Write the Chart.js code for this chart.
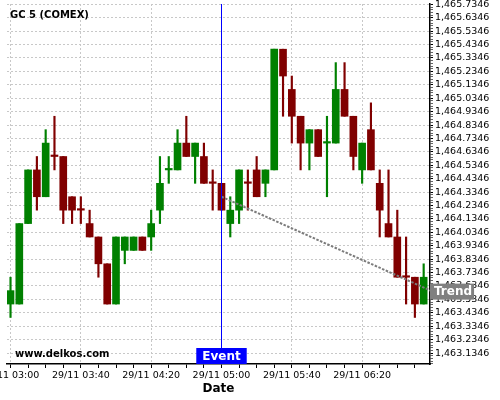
<!DOCTYPE html>
<html>
<head>
<meta charset="utf-8">
<script src="https://cdn.jsdelivr.net/npm/chart.js@4"></script>
<style>
  html, body { margin: 0; padding: 0; background: #fff; }
  #wrap { width: 500px; height: 400px; }
</style>
</head>
<body>
<div id="wrap"><canvas id="chart"></canvas></div>
<script>
const chartTitle = 'GC 5 (COMEX)';
const watermark = 'www.delkos.com';

// 5 minute candles, 29/11
const times = [
  '03:00','03:05','03:10','03:15','03:20','03:25','03:30','03:35','03:40','03:45','03:50','03:55',
  '04:00','04:05','04:10','04:15','04:20','04:25','04:30','04:35','04:40','04:45','04:50','04:55',
  '05:00','05:05','05:10','05:15','05:20','05:25','05:30','05:35','05:40','05:45','05:50','05:55',
  '06:00','06:05','06:10','06:15','06:20','06:25','06:30','06:35','06:40','06:45','06:50','06:55'
];
const open = [
  1463.5, 1463.5, 1464.1, 1464.5, 1464.3, 1464.6, 1464.6, 1464.3, 1464.2, 1464.1, 1464.0, 1463.8,
  1463.5, 1463.9, 1463.9, 1464.0, 1464.0, 1464.2, 1464.5, 1464.5, 1464.7, 1464.6, 1464.6, 1464.4,
  1464.4, 1464.1, 1464.2, 1464.4, 1464.5, 1464.4, 1464.5, 1465.4, 1465.1, 1464.9, 1464.7, 1464.8,
  1464.7, 1464.7, 1465.1, 1464.9, 1464.5, 1464.8, 1464.4, 1464.1, 1464.0, 1463.7, 1463.7, 1463.5
];
const high = [
  1463.7, 1464.1, 1464.5, 1464.6, 1464.8, 1464.9, 1464.6, 1464.3, 1464.3, 1464.2, 1464.0, 1463.8,
  1464.0, 1464.0, 1464.0, 1464.0, 1464.2, 1464.6, 1464.6, 1464.8, 1464.9, 1464.7, 1464.7, 1464.5,
  1464.4, 1464.3, 1464.5, 1464.5, 1464.6, 1464.5, 1465.4, 1465.4, 1465.2, 1464.9, 1464.8, 1464.8,
  1464.9, 1465.3, 1465.3, 1464.9, 1464.7, 1465.0, 1464.5, 1464.5, 1464.2, 1464.0, 1463.7, 1463.8
];
const low = [
  1463.4, 1463.5, 1464.1, 1464.2, 1464.3, 1464.5, 1464.1, 1464.1, 1464.1, 1464.0, 1463.7, 1463.5,
  1463.5, 1463.8, 1463.9, 1463.9, 1463.9, 1464.1, 1464.4, 1464.5, 1464.6, 1464.4, 1464.4, 1464.2,
  1464.2, 1464.0, 1464.1, 1464.2, 1464.3, 1464.3, 1464.5, 1464.9, 1464.7, 1464.5, 1464.5, 1464.6,
  1464.3, 1464.7, 1464.9, 1464.5, 1464.4, 1464.5, 1464.0, 1464.0, 1463.7, 1463.5, 1463.4, 1463.5
];
const close = [
  1463.6, 1464.1, 1464.5, 1464.3, 1464.7, 1464.6, 1464.2, 1464.2, 1464.2, 1464.0, 1463.8, 1463.5,
  1464.0, 1464.0, 1464.0, 1463.9, 1464.1, 1464.4, 1464.5, 1464.7, 1464.6, 1464.7, 1464.4, 1464.4,
  1464.2, 1464.2, 1464.5, 1464.4, 1464.3, 1464.5, 1465.4, 1465.2, 1464.9, 1464.7, 1464.8, 1464.6,
  1464.7, 1465.1, 1464.9, 1464.6, 1464.7, 1464.5, 1464.2, 1464.0, 1463.7, 1463.7, 1463.5, 1463.7
];

const yTicks = [
  1463.1346, 1463.2346, 1463.3346, 1463.4346, 1463.5346, 1463.6346, 1463.7346, 1463.8346, 1463.9346,
  1464.0346, 1464.1346, 1464.2346, 1464.3346, 1464.4346, 1464.5346, 1464.6346, 1464.7346, 1464.8346,
  1464.9346, 1465.0346, 1465.1346, 1465.2346, 1465.3346, 1465.4346, 1465.5346, 1465.6346, 1465.7346
];
const xTickTimes = ['03:00', '03:40', '04:20', '05:00', '05:40', '06:20'];
const xTickLabels = ['29/11 03:00', '29/11 03:40', '29/11 04:20', '29/11 05:00', '29/11 05:40', '29/11 06:20'];

const eventTime = '05:00';
const trendTimes = ['05:00', '06:59'];
const trendValues = [1464.3, 1463.6];

// minutes after 03:00
function toMin(t) {
    const [h, m] = t.split(':').map(Number);
    return (h - 3) * 60 + m;
}

const GREEN = '#008000';
const RED = '#800000';
// dojis take the colour of the move from the previous close
const colors = close.map((c, i) => {
    if (c > open[i]) return GREEN;
    if (c < open[i]) return RED;
    return (i > 0 && c > close[i - 1]) ? GREEN : RED;
});

const xMin = -2, xMax = 238.6;
const yMin = 1463.053, yMax = 1465.737;

const overlay = {
    id: 'overlay',
    beforeDraw(chart) {
        const ctx = chart.ctx;
        ctx.save();
        ctx.fillStyle = '#fff';
        ctx.fillRect(0, 0, chart.width, chart.height);
        ctx.restore();
    },
    afterDatasetsDraw(chart) {
        const {ctx, chartArea: a, scales: {x}} = chart;
        ctx.save();
        // event line
        const ex = Math.round(x.getPixelForValue(toMin(eventTime))) + 0.5;
        ctx.strokeStyle = '#0000ff';
        ctx.lineWidth = 1;
        ctx.beginPath();
        ctx.moveTo(ex, a.top);
        ctx.lineTo(ex, a.bottom);
        ctx.stroke();

        ctx.fillStyle = '#000';
        ctx.textBaseline = 'middle';
        ctx.font = 'bold 10px "DejaVu Sans"';
        ctx.fillText(chartTitle, a.left + 3, a.top + 11.5);
        ctx.fillText(watermark, a.left + 8, a.bottom - 10);

        // event label
        ctx.font = 'bold 12px "DejaVu Sans"';
        const w = ctx.measureText('Event').width + 12;
        ctx.fillStyle = '#0000ff';
        ctx.fillRect(ex - w / 2, a.bottom - 16, w, 16);
        ctx.fillStyle = '#fff';
        ctx.textAlign = 'center';
        ctx.fillText('Event', ex, a.bottom - 7.5);
        ctx.restore();
    },
    afterDraw(chart) {
        const {ctx, chartArea: a, scales: {y}} = chart;
        const ty = y.getPixelForValue(trendValues[trendValues.length - 1]) + 1;
        ctx.save();
        ctx.font = 'bold 12px "DejaVu Sans"';
        const w = ctx.measureText('Trend').width + 6;
        ctx.fillStyle = '#808080';
        ctx.fillRect(a.right, ty - 8, w, 16);
        ctx.fillStyle = '#fff';
        ctx.textBaseline = 'middle';
        ctx.fillText('Trend', a.right + 4, ty + 0.5);
        ctx.restore();
    }
};

Chart.defaults.font.family = '"DejaVu Sans"';
Chart.defaults.font.size = 9.5;
Chart.defaults.color = '#000';

new Chart(document.getElementById('chart'), {
    type: 'bar',
    data: {
        datasets: [
            {
                type: 'line',
                label: 'Trend',
                data: trendTimes.map((t, i) => ({x: toMin(t), y: trendValues[i]})),
                borderColor: '#7c7c7c',
                borderWidth: 2,
                borderDash: [2.5, 1.5],
                pointRadius: 0,
                order: 0
            },
            {
                label: 'body',
                data: times.map((t, i) => ({x: toMin(t), y: [open[i], close[i]]})),
                backgroundColor: colors,
                barThickness: 7,
                minBarLength: 1.5,
                grouped: false,
                order: 1
            },
            {
                label: 'wick',
                data: times.map((t, i) => ({x: toMin(t), y: [low[i], high[i]]})),
                backgroundColor: colors,
                barThickness: 1.5,
                grouped: false,
                order: 2
            }
        ]
    },
    options: {
        responsive: true,
        maintainAspectRatio: false,
        animation: false,
        events: [],
        layout: {padding: {left: 7, top: 4, right: 0, bottom: 0}},
        plugins: {legend: {display: false}, tooltip: {enabled: false}, title: {display: false}},
        scales: {
            x: {
                type: 'linear',
                min: xMin,
                max: xMax,
                offset: false,
                grid: {
                    offset: false,
                    color: ctx => (ctx.tick && ctx.tick.lbl) ? '#c8c8c8' : 'rgba(0,0,0,0)',
                    tickColor: '#000',
                    tickLength: 4
                },
                border: {display: true, color: '#000', width: 1.5, dash: [2, 2]},
                afterBuildTicks(scale) {
                    const majors = xTickTimes.map(toMin);
                    const ticks = [];
                    for (let m = 0; m <= scale.max; m += 10) {
                        const j = majors.indexOf(m);
                        ticks.push({value: m, lbl: j >= 0 ? xTickLabels[j] : null});
                    }
                    scale.ticks = ticks;
                },
                afterFit(scale) {
                    scale.height = 36;
                    scale.paddingLeft = 0;
                    scale.paddingRight = 0;
                },
                ticks: {
                    autoSkip: false,
                    maxRotation: 0,
                    padding: 2,
                    callback: (v, i, ticks) => ticks[i].lbl || ''
                },
                title: {
                    display: true,
                    text: 'Date',
                    font: {size: 12, weight: 'bold'},
                    padding: {top: 0, bottom: 4}
                }
            },
            y: {
                position: 'right',
                min: yMin,
                max: yMax,
                grid: {
                    color: ctx => (ctx.tick && ctx.tick.lbl) ? '#c8c8c8' : 'rgba(0,0,0,0)',
                    tickColor: ctx => (ctx.tick && ctx.tick.lbl) ? '#000' : '#666',
                    tickLength: 3
                },
                border: {display: true, color: '#000', width: 1.5, dash: [2, 2]},
                afterBuildTicks(scale) {
                    const ticks = [];
                    for (let k = -4; k < yTicks.length * 5; k++) {
                        const v = yTicks[0] + k * 0.02;
                        if (v < scale.min || v > scale.max) continue;
                        ticks.push({value: v, lbl: k % 5 === 0 ? yTicks[k / 5] : null});
                    }
                    scale.ticks = ticks;
                },
                afterFit(scale) {
                    scale.width = 70;
                    scale.paddingTop = 0;
                    scale.paddingBottom = 0;
                },
                ticks: {
                    autoSkip: false,
                    padding: 2,
                    callback: (v, i, ticks) => ticks[i].lbl
                        ? ticks[i].lbl.toLocaleString('en-US', {minimumFractionDigits: 4, maximumFractionDigits: 4})
                        : ''
                }
            }
        }
    },
    plugins: [overlay]
});
</script>
</body>
</html>
